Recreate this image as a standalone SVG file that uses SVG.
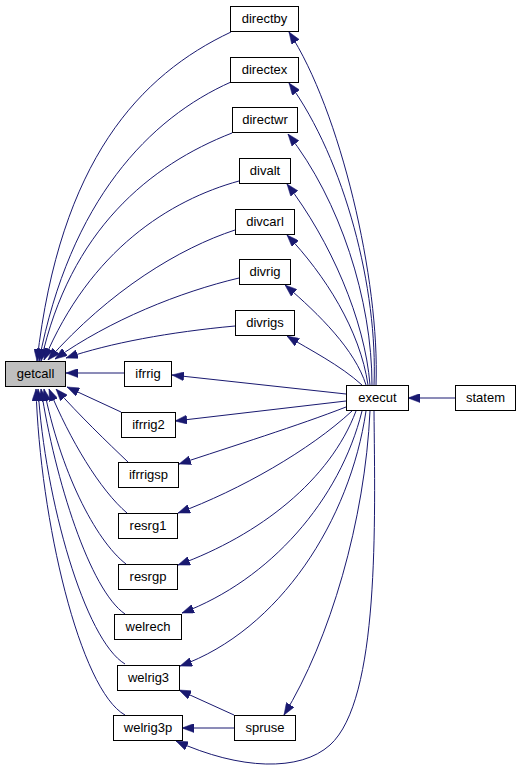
<svg xmlns="http://www.w3.org/2000/svg" width="524" height="773" viewBox="0 0 524 773">
<style>
.n rect{fill:#fff;stroke:#000;stroke-width:1}
.n text{font-family:"Liberation Sans",Arial,sans-serif;font-size:13px;fill:#000;text-anchor:middle}
.e path{fill:none;stroke:#191970;stroke-width:1;marker-end:url(#ah)}
</style>
<defs>
<marker id="ah" markerUnits="userSpaceOnUse" markerWidth="12" markerHeight="9" viewBox="0 0 12 9" refX="12" refY="4.5" orient="auto">
<path d="M0,0 L12,4.5 L0,9 z" fill="#191970" stroke="#191970" stroke-width="0.5"/>
</marker>
</defs>
<rect width="524" height="773" fill="#fff"/>
<g id="edges" class="e">
<path d="M231,32 C140,75 60,160 37,361"/>
<path d="M231,82 C150,118 70,200 39,361"/>
<path d="M232,133 C150,165 70,230 41,361"/>
<path d="M239,181 C170,200 90,250 44,360"/>
<path d="M235,230 C180,248 110,290 48,360"/>
<path d="M239,278 C180,292 110,320 55,359"/>
<path d="M235,326 C170,332 110,343 66,358"/>
<path d="M124,373 L66,373"/>
<path d="M121,412 L67,387"/>
<path d="M128,462 C108,443 78,414 56,389"/>
<path d="M127,513 C100,490 70,440 49,389"/>
<path d="M126,564 C95,540 60,470 44,389"/>
<path d="M125,614 C90,590 55,480 41,389"/>
<path d="M125,664 C85,640 45,500 38,389"/>
<path d="M125,715 C80,690 40,520 36,389"/>
<path d="M455,398 L408,398"/>
<path d="M376,385 C380,280 340,110 289,32"/>
<path d="M374,385 C378,290 345,160 289,83"/>
<path d="M372,385 C372,300 340,200 288,134"/>
<path d="M370,385 C365,320 330,240 287,184"/>
<path d="M368,385 C360,330 325,275 287,235"/>
<path d="M366,385 C355,350 320,315 285,285"/>
<path d="M362,385 C340,365 310,350 287,336"/>
<path d="M346,394 L172,375"/>
<path d="M346,401 L175,421"/>
<path d="M346,407 C300,425 230,447 179,464"/>
<path d="M352,411 C310,450 240,490 178,513"/>
<path d="M356,411 C330,480 260,535 178,565"/>
<path d="M362,411 C340,500 270,580 182,613"/>
<path d="M366,411 C350,520 280,630 180,666"/>
<path d="M370,411 C365,520 330,640 284,715"/>
<path d="M374,411 C375,520 380,700 330,745 C300,772 240,770 176,741"/>
<path d="M234,715 L179,690"/>
<path d="M234,728 L182,728"/>
</g>
<g id="getcall" class="n"><rect x="5.5" y="361.5" width="60" height="25" style="fill:#bfbfbf"/><text x="35.5" y="378">getcall</text></g>
<g id="directby" class="n"><rect x="230.5" y="6.5" width="68" height="25"/><text x="264.5" y="23">directby</text></g>
<g id="directex" class="n"><rect x="230.5" y="57.5" width="68" height="25"/><text x="264.5" y="74">directex</text></g>
<g id="directwr" class="n"><rect x="232.5" y="107.5" width="65" height="25"/><text x="265" y="124">directwr</text></g>
<g id="divalt" class="n"><rect x="239.5" y="158.5" width="51" height="25"/><text x="265" y="175">divalt</text></g>
<g id="divcarl" class="n"><rect x="235.5" y="209.5" width="59" height="25"/><text x="265" y="226">divcarl</text></g>
<g id="divrig" class="n"><rect x="239.5" y="259.5" width="51" height="25"/><text x="265" y="276">divrig</text></g>
<g id="divrigs" class="n"><rect x="235.5" y="310.5" width="59" height="25"/><text x="265" y="327">divrigs</text></g>
<g id="ifrrig" class="n"><rect x="124.5" y="361.5" width="47" height="25"/><text x="148" y="378">ifrrig</text></g>
<g id="ifrrig2" class="n"><rect x="121.5" y="412.5" width="54" height="25"/><text x="148.5" y="429">ifrrig2</text></g>
<g id="ifrrigsp" class="n"><rect x="118.5" y="462.5" width="60" height="25"/><text x="148.5" y="479">ifrrigsp</text></g>
<g id="resrg1" class="n"><rect x="118.5" y="513.5" width="59" height="25"/><text x="148" y="530">resrg1</text></g>
<g id="resrgp" class="n"><rect x="118.5" y="564.5" width="59" height="25"/><text x="148" y="581">resrgp</text></g>
<g id="welrech" class="n"><rect x="114.5" y="614.5" width="67" height="25"/><text x="148" y="631">welrech</text></g>
<g id="welrig3" class="n"><rect x="117.5" y="665.5" width="62" height="25"/><text x="148.5" y="682">welrig3</text></g>
<g id="welrig3p" class="n"><rect x="113.5" y="715.5" width="69" height="25"/><text x="148" y="732">welrig3p</text></g>
<g id="spruse" class="n"><rect x="234.5" y="715.5" width="61" height="25"/><text x="265" y="732">spruse</text></g>
<g id="execut" class="n"><rect x="346.5" y="385.5" width="62" height="25"/><text x="377.5" y="402">execut</text></g>
<g id="statem" class="n"><rect x="455.5" y="385.5" width="60" height="25"/><text x="485.5" y="402">statem</text></g>
</svg>
